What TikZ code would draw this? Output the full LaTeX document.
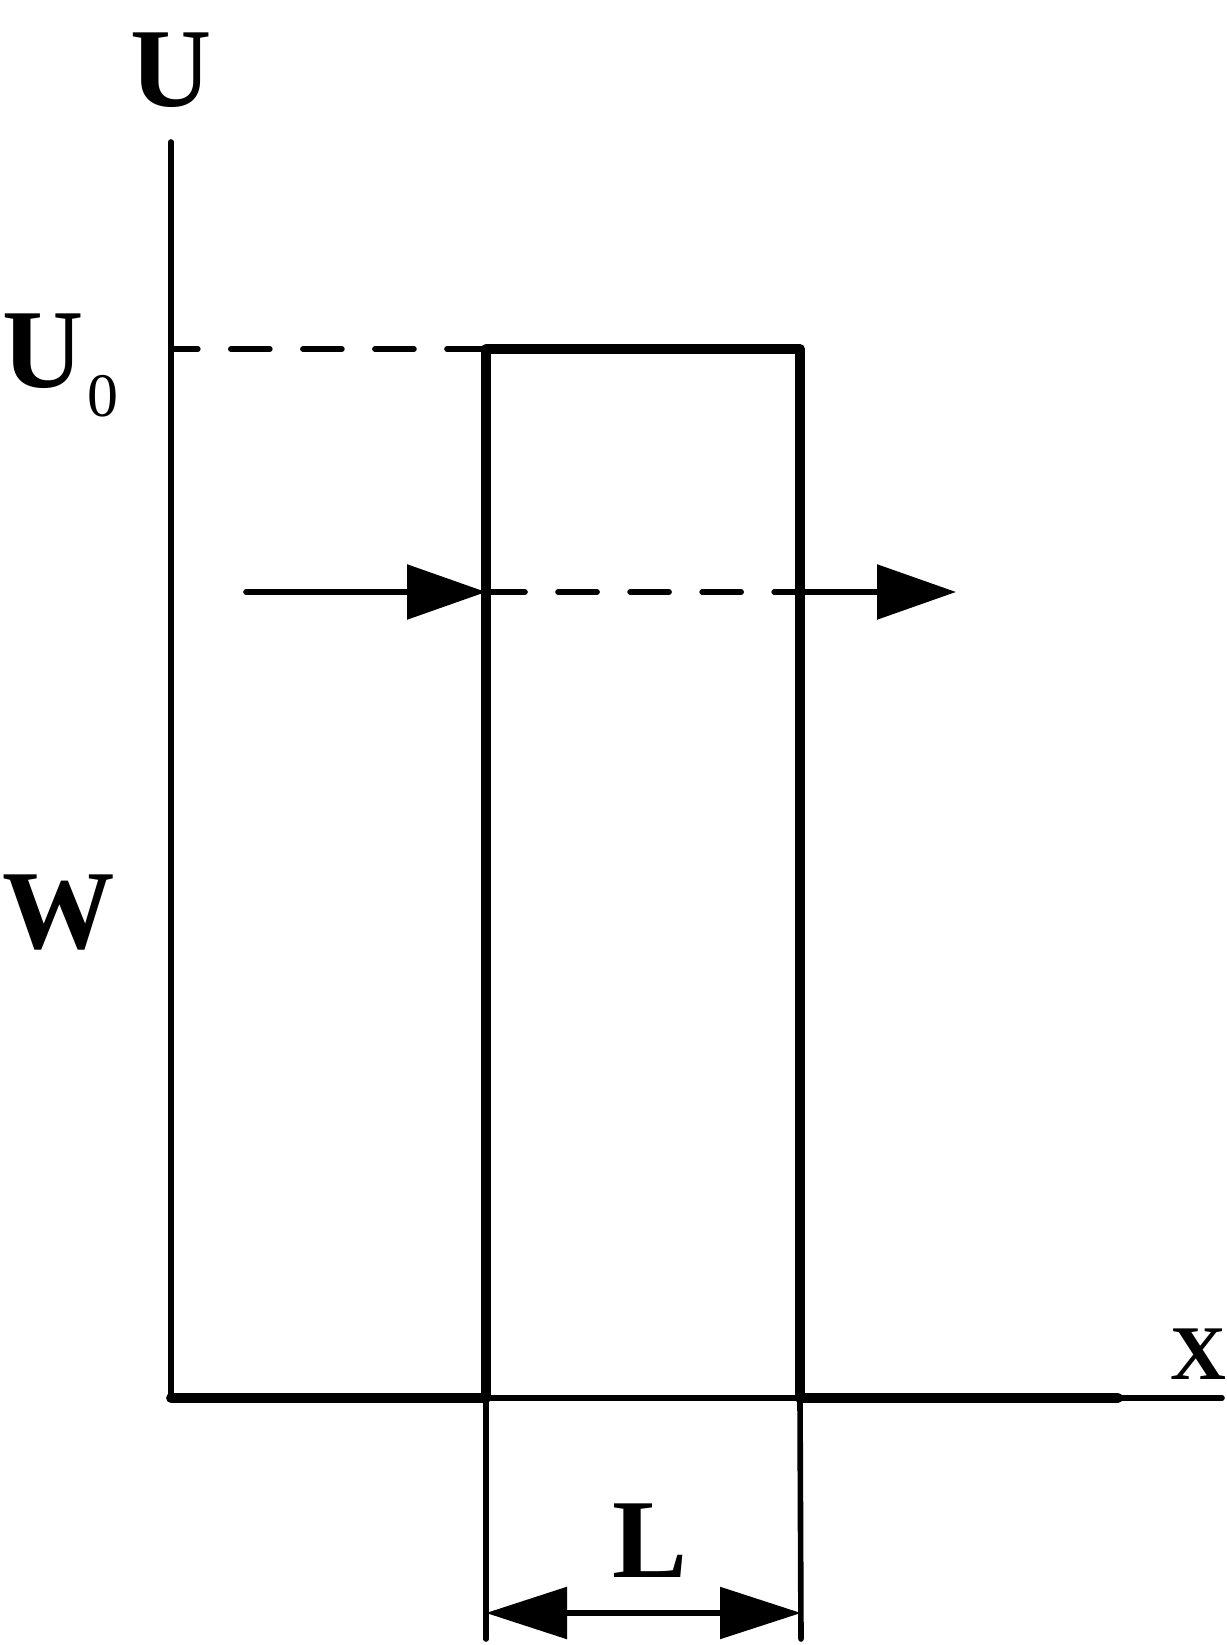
\documentclass[tikz,border=0pt]{standalone}
\usepackage{fontspec}
\setmainfont{Liberation Serif}
\usepackage{tikz}
\usetikzlibrary{arrows.meta, positioning, calc}
\usepackage{xcolor}
\definecolor{barrierblack}{RGB}{0, 0, 0}
\tikzstyle{thinline} = [line width=1.6pt, line cap=round, barrierblack]
\tikzstyle{wall} = [line width=2.8pt, line cap=round, line join=round, barrierblack]
\tikzstyle{dashline} = [thinline, dash pattern=on 11.1pt off 9.4pt]
\tikzstyle{arrow} = [thinline, -{Triangle[length=0.79cm,width=0.54cm]}]
\tikzstyle{dimarrow} = [thinline, {Triangle[length=0.81cm,width=0.51cm]}-{Triangle[length=0.81cm,width=0.51cm]}]
\tikzstyle{biglabel} = [inner sep=0pt, font=\fontsize{32}{34}\selectfont\bfseries]

\begin{document}
\begin{tikzpicture}
\useasboundingbox (0,0) rectangle (12.26,16.45);
% Axes and barrier corners
\coordinate (origin) at (1.71,2.47);
\coordinate (ytop) at (1.71,15.03);
\coordinate (xthick) at (11.18,2.47);
\coordinate (xend) at (12.22,2.47);
\coordinate (wallLb) at (4.86,2.47);
\coordinate (wallLt) at (4.86,12.96);
\coordinate (wallRt) at (8.00,12.96);
\coordinate (wallRb) at (8.00,2.47);
\coordinate (uzero) at (1.71,12.96);
% Particle path
\coordinate (inStart) at (2.46,10.53);
\coordinate (inTip) at (4.86,10.53);
\coordinate (outStart) at (8.00,10.53);
\coordinate (outTip) at (9.56,10.53);
% Width L
\coordinate (extL) at (4.86,0.06);
\coordinate (extR) at (8.01,0.06);
\coordinate (dimL) at (4.86,0.32);
\coordinate (dimR) at (8.01,0.32);

% Dashed guides
\draw[dashline] (wallLt) -- (uzero);
\draw[dashline] (inTip) -- (outStart);

% Axes
\draw[thinline] (ytop) -- (origin) -- (xend);
\draw[wall] (origin) -- (wallLb);
\draw[wall] (wallRb) -- (xthick);

% Barrier
\draw[wall] (wallLb) -- (wallLt) -- (wallRt) -- (wallRb);

% Incoming and transmitted particle
\draw[arrow] (inStart) -- (inTip);
\draw[arrow] (outStart) -- (outTip);

% Width of barrier
\draw[thinline] (wallLb) -- (extL);
\draw[thinline] (wallRb) -- (extR);
\draw[dimarrow] (dimL) -- (dimR);

% Labels
\node[biglabel] (labelU) at (1.71,15.75) {U};
\node[biglabel, anchor=base west] (labelUzero) at (0.02,12.57) {U\hspace{0.04cm}\raisebox{-8.2pt}{\fontsize{17.6}{18}\selectfont\mdseries 0}};
\node[biglabel] (labelW) at (0.59,7.32) {W};
\node[biglabel, font=\fontsize{22}{24}\selectfont\bfseries] (labelX) at (11.98,2.91) {X};
\node[biglabel] (labelL) at (6.50,1.04) {L};
\end{tikzpicture}
\end{document}
